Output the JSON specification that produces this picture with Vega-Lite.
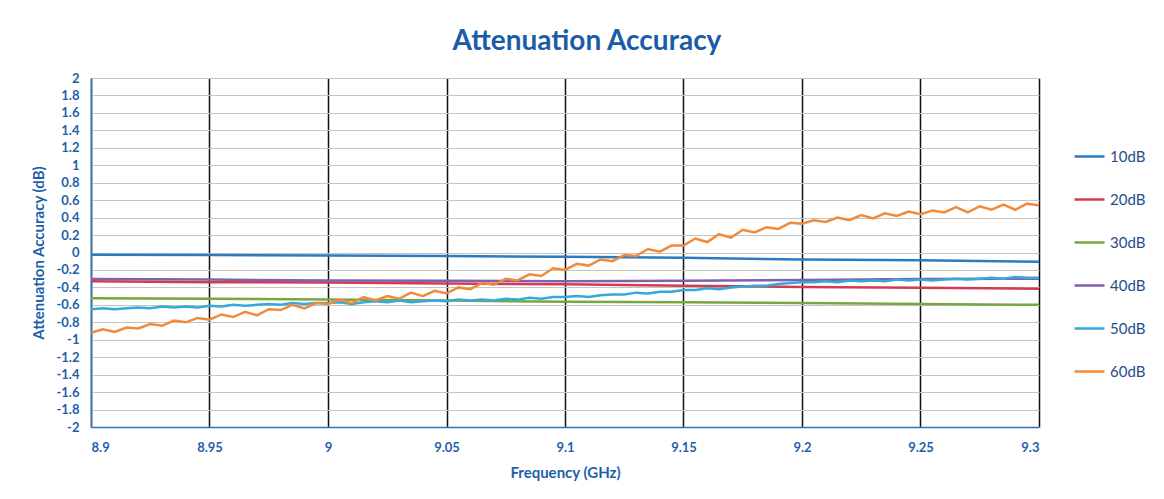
{
  "$schema": "https://vega.github.io/schema/vega-lite/v6.json",
  "width": 948,
  "height": 349,
  "autosize": {"type": "none"},
  "padding": {"left": 91, "top": 78, "right": 125, "bottom": 72},
  "background": "white",
  "config": {"view": {"stroke": null}, "font": "Lato"},
  "title": {"text": "Attenuation Accuracy", "fontSize": 28, "fontWeight": "bold", "color": "#1B5CA8", "anchor": "middle", "dx": 22, "offset": 16, "font": "Lato"},
  "datasets": {
    "smooth": [
      {"f": 8.9, "s": "10dB", "v": -0.025}, {"f": 8.95, "s": "10dB", "v": -0.03}, {"f": 9.0, "s": "10dB", "v": -0.035}, {"f": 9.05, "s": "10dB", "v": -0.04}, {"f": 9.1, "s": "10dB", "v": -0.05}, {"f": 9.15, "s": "10dB", "v": -0.06}, {"f": 9.2, "s": "10dB", "v": -0.08}, {"f": 9.25, "s": "10dB", "v": -0.09}, {"f": 9.3, "s": "10dB", "v": -0.105},
      {"f": 8.9, "s": "20dB", "v": -0.33}, {"f": 8.95, "s": "20dB", "v": -0.34}, {"f": 9.0, "s": "20dB", "v": -0.345}, {"f": 9.05, "s": "20dB", "v": -0.355}, {"f": 9.1, "s": "20dB", "v": -0.365}, {"f": 9.15, "s": "20dB", "v": -0.38}, {"f": 9.2, "s": "20dB", "v": -0.395}, {"f": 9.25, "s": "20dB", "v": -0.405}, {"f": 9.3, "s": "20dB", "v": -0.415},
      {"f": 8.9, "s": "30dB", "v": -0.525}, {"f": 8.95, "s": "30dB", "v": -0.53}, {"f": 9.0, "s": "30dB", "v": -0.54}, {"f": 9.05, "s": "30dB", "v": -0.55}, {"f": 9.1, "s": "30dB", "v": -0.565}, {"f": 9.15, "s": "30dB", "v": -0.57}, {"f": 9.2, "s": "30dB", "v": -0.58}, {"f": 9.25, "s": "30dB", "v": -0.59}, {"f": 9.3, "s": "30dB", "v": -0.6},
      {"f": 8.9, "s": "40dB", "v": -0.305}, {"f": 8.95, "s": "40dB", "v": -0.31}, {"f": 9.0, "s": "40dB", "v": -0.32}, {"f": 9.05, "s": "40dB", "v": -0.325}, {"f": 9.1, "s": "40dB", "v": -0.33}, {"f": 9.15, "s": "40dB", "v": -0.325}, {"f": 9.2, "s": "40dB", "v": -0.315}, {"f": 9.25, "s": "40dB", "v": -0.305}, {"f": 9.3, "s": "40dB", "v": -0.3}
    ],
    "noisy": [
      {"f": 8.900, "50dB": -0.65, "60dB": -0.92}, {"f": 8.905, "50dB": -0.64, "60dB": -0.88}, {"f": 8.910, "50dB": -0.65, "60dB": -0.91}, {"f": 8.915, "50dB": -0.64, "60dB": -0.86}, {"f": 8.920, "50dB": -0.63, "60dB": -0.87},
      {"f": 8.925, "50dB": -0.64, "60dB": -0.82}, {"f": 8.930, "50dB": -0.62, "60dB": -0.84}, {"f": 8.935, "50dB": -0.63, "60dB": -0.78}, {"f": 8.940, "50dB": -0.62, "60dB": -0.80}, {"f": 8.945, "50dB": -0.63, "60dB": -0.75},
      {"f": 8.950, "50dB": -0.61, "60dB": -0.77}, {"f": 8.955, "50dB": -0.62, "60dB": -0.71}, {"f": 8.960, "50dB": -0.60, "60dB": -0.74}, {"f": 8.965, "50dB": -0.61, "60dB": -0.68}, {"f": 8.970, "50dB": -0.60, "60dB": -0.72},
      {"f": 8.975, "50dB": -0.59, "60dB": -0.65}, {"f": 8.980, "50dB": -0.60, "60dB": -0.66}, {"f": 8.985, "50dB": -0.58, "60dB": -0.60}, {"f": 8.990, "50dB": -0.59, "60dB": -0.64}, {"f": 8.995, "50dB": -0.58, "60dB": -0.58},
      {"f": 9.000, "50dB": -0.58, "60dB": -0.59}, {"f": 9.005, "50dB": -0.57, "60dB": -0.54}, {"f": 9.010, "50dB": -0.59, "60dB": -0.58}, {"f": 9.015, "50dB": -0.57, "60dB": -0.51}, {"f": 9.020, "50dB": -0.56, "60dB": -0.55},
      {"f": 9.025, "50dB": -0.57, "60dB": -0.50}, {"f": 9.030, "50dB": -0.55, "60dB": -0.53}, {"f": 9.035, "50dB": -0.57, "60dB": -0.46}, {"f": 9.040, "50dB": -0.56, "60dB": -0.50}, {"f": 9.045, "50dB": -0.55, "60dB": -0.44},
      {"f": 9.050, "50dB": -0.56, "60dB": -0.47}, {"f": 9.055, "50dB": -0.54, "60dB": -0.40}, {"f": 9.060, "50dB": -0.55, "60dB": -0.42}, {"f": 9.065, "50dB": -0.54, "60dB": -0.35}, {"f": 9.070, "50dB": -0.55, "60dB": -0.37},
      {"f": 9.075, "50dB": -0.53, "60dB": -0.30}, {"f": 9.080, "50dB": -0.54, "60dB": -0.32}, {"f": 9.085, "50dB": -0.52, "60dB": -0.25}, {"f": 9.090, "50dB": -0.53, "60dB": -0.27}, {"f": 9.095, "50dB": -0.51, "60dB": -0.18},
      {"f": 9.100, "50dB": -0.51, "60dB": -0.20}, {"f": 9.105, "50dB": -0.50, "60dB": -0.13}, {"f": 9.110, "50dB": -0.51, "60dB": -0.15}, {"f": 9.115, "50dB": -0.49, "60dB": -0.08}, {"f": 9.120, "50dB": -0.48, "60dB": -0.10},
      {"f": 9.125, "50dB": -0.48, "60dB": -0.03}, {"f": 9.130, "50dB": -0.46, "60dB": -0.04}, {"f": 9.135, "50dB": -0.47, "60dB": 0.04}, {"f": 9.140, "50dB": -0.45, "60dB": 0.01}, {"f": 9.145, "50dB": -0.45, "60dB": 0.08},
      {"f": 9.150, "50dB": -0.43, "60dB": 0.08}, {"f": 9.155, "50dB": -0.43, "60dB": 0.16}, {"f": 9.160, "50dB": -0.41, "60dB": 0.12}, {"f": 9.165, "50dB": -0.42, "60dB": 0.21}, {"f": 9.170, "50dB": -0.40, "60dB": 0.17},
      {"f": 9.175, "50dB": -0.39, "60dB": 0.26}, {"f": 9.180, "50dB": -0.38, "60dB": 0.23}, {"f": 9.185, "50dB": -0.38, "60dB": 0.29}, {"f": 9.190, "50dB": -0.36, "60dB": 0.27}, {"f": 9.195, "50dB": -0.35, "60dB": 0.34},
      {"f": 9.200, "50dB": -0.34, "60dB": 0.33}, {"f": 9.205, "50dB": -0.34, "60dB": 0.37}, {"f": 9.210, "50dB": -0.33, "60dB": 0.35}, {"f": 9.215, "50dB": -0.34, "60dB": 0.40}, {"f": 9.220, "50dB": -0.32, "60dB": 0.37},
      {"f": 9.225, "50dB": -0.33, "60dB": 0.43}, {"f": 9.230, "50dB": -0.32, "60dB": 0.39}, {"f": 9.235, "50dB": -0.33, "60dB": 0.45}, {"f": 9.240, "50dB": -0.31, "60dB": 0.42}, {"f": 9.245, "50dB": -0.32, "60dB": 0.47},
      {"f": 9.250, "50dB": -0.31, "60dB": 0.44}, {"f": 9.255, "50dB": -0.32, "60dB": 0.48}, {"f": 9.260, "50dB": -0.31, "60dB": 0.46}, {"f": 9.265, "50dB": -0.30, "60dB": 0.52}, {"f": 9.270, "50dB": -0.31, "60dB": 0.46},
      {"f": 9.275, "50dB": -0.30, "60dB": 0.53}, {"f": 9.280, "50dB": -0.29, "60dB": 0.49}, {"f": 9.285, "50dB": -0.30, "60dB": 0.55}, {"f": 9.290, "50dB": -0.28, "60dB": 0.49}, {"f": 9.295, "50dB": -0.29, "60dB": 0.56},
      {"f": 9.300, "50dB": -0.29, "60dB": 0.54}
    ]
  },
  "encoding": {
    "x": {
      "field": "f", "type": "quantitative",
      "scale": {"domain": [8.9, 9.3], "nice": false, "zero": false},
      "axis": {
        "title": "Frequency (GHz)", "values": [8.9, 8.95, 9.0, 9.05, 9.1, 9.15, 9.2, 9.25, 9.3], "format": ".2~f",
        "grid": true, "gridColor": "#111111", "gridWidth": 1.5, "gridOpacity": 1,
        "domainColor": "#2E75B6", "domainWidth": 1.5, "ticks": false,
        "labelPadding": 14, "labelFontSize": 13, "labelFontWeight": "bold", "labelColor": "#1F5FA8", "labelFont": "Lato",
        "titleFontSize": 15, "titleFontWeight": "bold", "titleColor": "#1F5FA8", "titlePadding": 11, "titleFont": "Lato"
      }
    },
    "y": {
      "field": "v", "type": "quantitative",
      "scale": {"domain": [-2, 2], "nice": false, "zero": false},
      "axis": {
        "title": "Attenuation Accuracy (dB)", "values": [-2, -1.8, -1.6, -1.4, -1.2, -1, -0.8, -0.6, -0.4, -0.2, 0, 0.2, 0.4, 0.6, 0.8, 1, 1.2, 1.4, 1.6, 1.8, 2],
        "format": ".1~f", "labelExpr": "replace(datum.label, '\u2212', '-')",
        "grid": true, "gridColor": "#C4C4C4", "gridWidth": 1, "gridOpacity": 1,
        "domainColor": "#2E75B6", "domainWidth": 1.5, "ticks": false,
        "labelPadding": 12, "labelFontSize": 13, "labelFontWeight": "bold", "labelColor": "#1F5FA8", "labelFont": "Lato",
        "titleFontSize": 15, "titleFontWeight": "bold", "titleColor": "#1F5FA8", "titlePadding": 9, "titleFont": "Lato"
      }
    },
    "color": {
      "field": "s", "type": "nominal",
      "scale": {"domain": ["10dB", "20dB", "30dB", "40dB", "50dB", "60dB"], "range": ["#2C7BC0", "#D63A50", "#7AA642", "#8060B0", "#35A9DC", "#F08A3C"]},
      "legend": {
        "title": null, "orient": "none", "legendX": 982, "legendY": 62,
        "symbolType": "stroke", "symbolSize": 900, "symbolStrokeWidth": 2.5,
        "labelFontSize": 15, "labelColor": "#1F4E8C", "labelFont": "Lato", "labelOffset": 4,
        "rowPadding": 18
      }
    }
  },
  "layer": [
    {"data": {"name": "smooth"}, "mark": {"type": "line", "strokeWidth": 2.5}},
    {"data": {"name": "noisy"}, "transform": [{"fold": ["50dB", "60dB"], "as": ["s", "v"]}], "mark": {"type": "line", "strokeWidth": 2.5}}
  ]
}
